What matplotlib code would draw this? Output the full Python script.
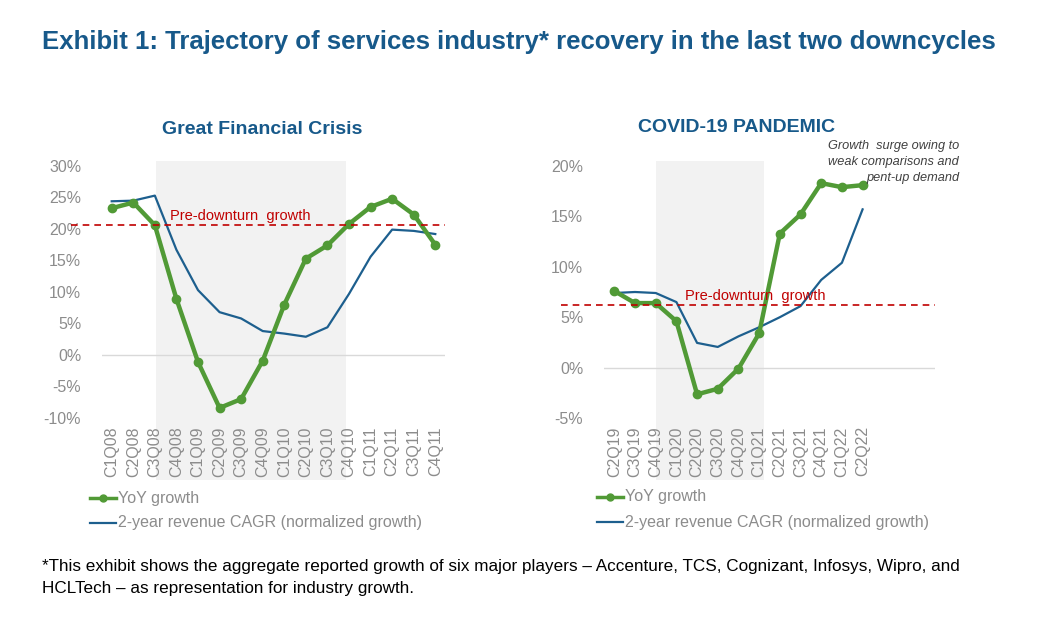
import matplotlib.pyplot as plt
from matplotlib.ticker import FuncFormatter

plt.rcParams['font.family'] = ['Liberation Sans', 'DejaVu Sans']

# Great Financial Crisis
gfc_quarters = ['C1Q08', 'C2Q08', 'C3Q08', 'C4Q08', 'C1Q09', 'C2Q09', 'C3Q09', 'C4Q09',
                'C1Q10', 'C2Q10', 'C3Q10', 'C4Q10', 'C1Q11', 'C2Q11', 'C3Q11', 'C4Q11']
gfc_yoy = [23.3, 24.2, 20.6, 8.9, -1.1, -8.4, -7.0, -0.9,
           8.0, 15.3, 17.4, 20.8, 23.5, 24.8, 22.3, 17.5]
gfc_cagr = [24.4, 24.5, 25.3, 16.7, 10.3, 6.8, 5.8, 3.8,
            3.4, 2.9, 4.4, 9.7, 15.6, 19.9, 19.7, 19.2]
gfc_pre = 20.6
gfc_ticks = [30, 25, 20, 15, 10, 5, 0, -5, -10]

# COVID-19
cov_quarters = ['C2Q19', 'C3Q19', 'C4Q19', 'C1Q20', 'C2Q20', 'C3Q20', 'C4Q20',
                'C1Q21', 'C2Q21', 'C3Q21', 'C4Q21', 'C1Q22', 'C2Q22']
cov_yoy = [7.6, 6.4, 6.4, 4.6, -2.65, -2.1, -0.1, 3.4, 13.3, 15.2, 18.3, 17.9, 18.1]
cov_cagr = [7.4, 7.5, 7.4, 6.5, 2.45, 2.05, 3.1, 4.0, 5.0, 6.1, 8.7, 10.4, 15.7]
cov_pre = 6.2
cov_ticks = [20, 15, 10, 5, 0, -5]

GREEN = '#519A36'
BLUE = '#1D5F8E'
RED = '#C00000'
TITLE_BLUE = '#17598A'
GRAY = '#8C8C8C'
SHADE = '#F2F2F2'

W, H = 1057, 625
fig = plt.figure(figsize=(W / 100, H / 100), dpi=100)


def px_axes(x0, x1, y0, y1):
    return fig.add_axes([x0 / W, 1 - y1 / H, (x1 - x0) / W, (y1 - y0) / H])


def draw_panel(ax, quarters, yoy, cagr, pre, ticks, shade, xlim, pre_x0):
    x = list(range(len(quarters)))
    ax.axvspan(shade[0], shade[1], ymin=-0.245, ymax=1.018, color=SHADE, zorder=0,
               clip_on=False, lw=0)
    ax.axhline(0, color='#D9D9D9', lw=1, zorder=1)
    ax.plot(x, cagr, color=BLUE, lw=1.6, zorder=3)
    ax.plot(x, yoy, color=GREEN, lw=3.2, marker='o', ms=6, zorder=4)
    ax.plot([pre_x0, xlim[1]], [pre, pre], color=RED, lw=1.2, ls=(0, (4, 3)),
            zorder=5, clip_on=False)
    ax.set_xlim(*xlim)
    ax.set_ylim(min(ticks), max(ticks))
    ax.set_yticks(ticks)
    ax.yaxis.set_major_formatter(FuncFormatter(lambda v, p: f'{v:.0f}%'))
    ax.set_xticks(x)
    ax.set_xticklabels(quarters, rotation=90, fontsize=11.5, color=GRAY)
    ax.tick_params(axis='y', labelsize=11.5, labelcolor=GRAY, length=0, pad=15)
    ax.tick_params(axis='x', length=0, pad=6)
    for s in ax.spines.values():
        s.set_visible(False)
    ax.patch.set_alpha(0)


ax1 = px_axes(102, 445, 166, 418)
draw_panel(ax1, gfc_quarters, gfc_yoy, gfc_cagr, gfc_pre, gfc_ticks,
           (2.05, 10.85), (-0.45, 15.45), -1.9)
ax1.text(2.7, gfc_pre + 0.4, 'Pre-downturn  growth', color=RED, fontsize=10.5,
         va='bottom', zorder=6)

ax2 = px_axes(604, 935, 166, 418)
draw_panel(ax2, cov_quarters, cov_yoy, cov_cagr, cov_pre, cov_ticks,
           (2.0, 7.25), (-0.5, 15.5), -2.6)
ax2.text(3.4, cov_pre + 0.2, 'Pre-downturn  growth', color=RED, fontsize=10.5,
         va='bottom', zorder=6)

# titles
fig.text(42 / W, 1 - 42 / H, 'Exhibit 1: Trajectory of services industry* recovery in the last two downcycles',
         fontweight='bold', fontsize=18.5, color=TITLE_BLUE, va='center', ha='left')
fig.text(262 / W, 1 - 129 / H, 'Great Financial Crisis',
         fontweight='bold', fontsize=14, color=TITLE_BLUE, va='center', ha='center')
fig.text(737 / W, 1 - 128 / H, 'COVID-19 PANDEMIC',
         fontweight='bold', fontsize=14, color=TITLE_BLUE, va='center', ha='center')

fig.text(959 / W, 1 - 162 / H, 'Growth  surge owing to\nweak comparisons and\npent-up demand',
         fontsize=9.2, style='italic', color='#404040', ha='right', va='center',
         linespacing=1.4)

# legends
for lx, ly in [(90, 498), (597, 497)]:
    fig.lines.append(plt.Line2D([lx / W, (lx + 26) / W], [1 - ly / H, 1 - ly / H],
                                color=GREEN, lw=2.5, transform=fig.transFigure))
    fig.lines.append(plt.Line2D([(lx + 13) / W], [1 - ly / H], color=GREEN,
                                marker='o', ms=5, transform=fig.transFigure))
    fig.lines.append(plt.Line2D([lx / W, (lx + 26) / W], [1 - (ly + 25) / H, 1 - (ly + 25) / H],
                                color=BLUE, lw=1.6, transform=fig.transFigure))
    fig.text((lx + 28) / W, 1 - ly / H, 'YoY growth', fontsize=11.5, color=GRAY, va='center')
    fig.text((lx + 28) / W, 1 - (ly + 25) / H, '2-year revenue CAGR (normalized growth)',
             fontsize=11.5, color=GRAY, va='center')

# footnote
fig.text(42 / W, 1 - 566 / H,
         '*This exhibit shows the aggregate reported growth of six major players \u2013 Accenture, TCS, Cognizant, Infosys, Wipro, and',
         fontsize=12.3, color='black', va='center')
fig.text(42 / W, 1 - 589 / H,
         'HCLTech \u2013 as representation for industry growth.',
         fontsize=12.3, color='black', va='center')

fig.savefig('out.png', dpi=100, facecolor='white')
